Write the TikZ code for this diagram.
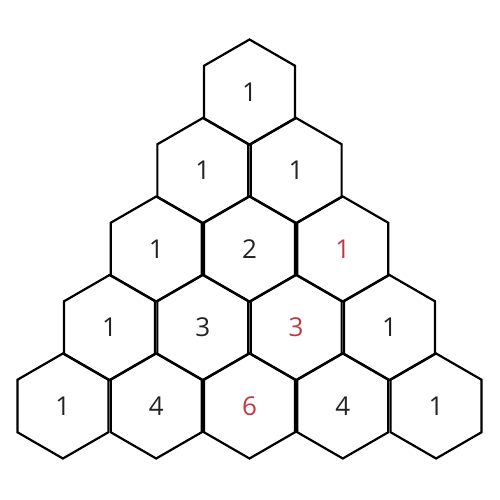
\documentclass[tikz,border=0pt]{standalone}
\usepackage{fontspec}
\setmainfont{Open Sans}
\usetikzlibrary{shapes.geometric}
\definecolor{PascalRed}{RGB}{190, 58, 68}
\definecolor{PascalInk}{RGB}{35, 35, 35}

\begin{document}
\begin{tikzpicture}[x=1pt, y=-1pt,
    hexcell/.style={regular polygon, regular polygon sides=6, shape border rotate=30,
        minimum size=105pt, inner sep=0pt, draw=black, line width=2.2pt,
        text=PascalInk, font=\fontsize{26}{30}\selectfont},
    oddcell/.style={hexcell, text=PascalRed}]

    % --- Canvas ---
    \useasboundingbox (0,0) rectangle (500,500);

    % --- Geometry of the triangle ---
    \def\hexDx{93.3}
    \def\hexDy{78.5}
    \def\topY{92}

    % --- Cells: row/position/value/style ---
    \foreach \r/\k/\val/\kind in {
        0/0/1/hexcell,
        1/0/1/hexcell, 1/1/1/hexcell,
        2/0/1/hexcell, 2/1/2/hexcell, 2/2/1/oddcell,
        3/0/1/hexcell, 3/1/3/hexcell, 3/2/3/oddcell, 3/3/1/hexcell,
        4/0/1/hexcell, 4/1/4/hexcell, 4/2/6/oddcell, 4/3/4/hexcell, 4/4/1/hexcell} {
        \node[\kind] (h\r\k) at ({249.5 + (\k - \r/2)*\hexDx}, {\topY + \r*\hexDy}) {\val};
    }

\end{tikzpicture}
\end{document}
